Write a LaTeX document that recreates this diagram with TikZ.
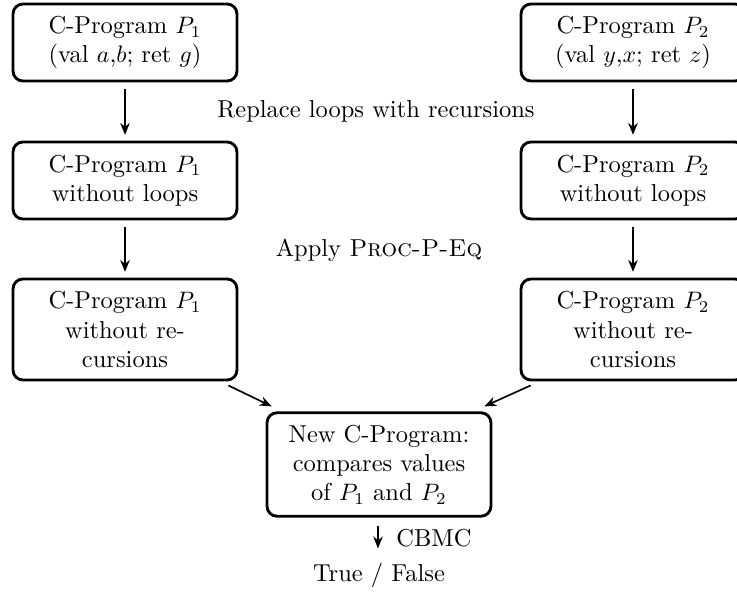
\documentclass[tikz,border=0pt]{standalone}
\usetikzlibrary{arrows.meta,calc}
\begin{document}
\begin{tikzpicture}[x=0.4206pt,y=-0.4206pt,
  every node/.style={font=\fontsize{10.3}{12.3}\selectfont},
  box/.style={draw,line width=1.2pt,rounded corners=4.2pt,minimum width=94.2pt,align=center,inner sep=2pt},
  arr/.style={-{Stealth[length=5pt,width=4pt]},line width=0.7pt},
  lbl/.style={inner sep=0pt}]
\useasboundingbox (0,0) rectangle (737,592);
% column boxes
\node[box,minimum height=32.4pt] (l1) at (125,42.5) {C-Program $P_1$\\(val $a$,$b$; ret $g$)};
\node[box,minimum height=32.4pt] (r1) at (633,42.5) {C-Program $P_2$\\(val $y$,$x$; ret $z$)};
\node[box,minimum height=32.4pt] (l2) at (125,180.5) {C-Program $P_1$\\without loops};
\node[box,minimum height=32.4pt] (r2) at (633,180.5) {C-Program $P_2$\\without loops};
\node[box,minimum height=42.5pt] (l3) at (125,329.5) {C-Program $P_1$\\without re-\\cursions};
\node[box,minimum height=42.5pt] (r3) at (633,329.5) {C-Program $P_2$\\without re-\\cursions};
\node[box,minimum height=43.5pt] (c) at (379,464.5) {New C-Program:\\compares values\\of $P_1$ and $P_2$};
% labels
\node[lbl] (rep) at (376,111) {Replace loops with recursions};
\node[lbl] (app) at (379,250) {Apply \textsc{Proc-P-Eq}};
\node[lbl,anchor=west] (cbmc) at (396,538) {CBMC};
\node (tf) at (379,575) {True / False};
% arrows
\draw[arr,shorten <=2.6pt,shorten >=2.4pt] (l1) -- (l2);
\draw[arr,shorten <=2.6pt,shorten >=2.4pt] (r1) -- (r2);
\draw[arr,shorten <=2.6pt,shorten >=2.4pt] (l2) -- (l3);
\draw[arr,shorten <=2.6pt,shorten >=2.4pt] (r2) -- (r3);
\draw[arr] ($(l3.south east)+(-10,4)$) -- ($(c.north west)+(6,-5)$);
\draw[arr] ($(r3.south west)+(11,4)$) -- ($(c.north east)+(-8,-5)$);
\draw[arr,shorten <=3.5pt,shorten >=2.5pt] (c.south -| 378,0) -- (tf.north -| 378,0);
\end{tikzpicture}
\end{document}
